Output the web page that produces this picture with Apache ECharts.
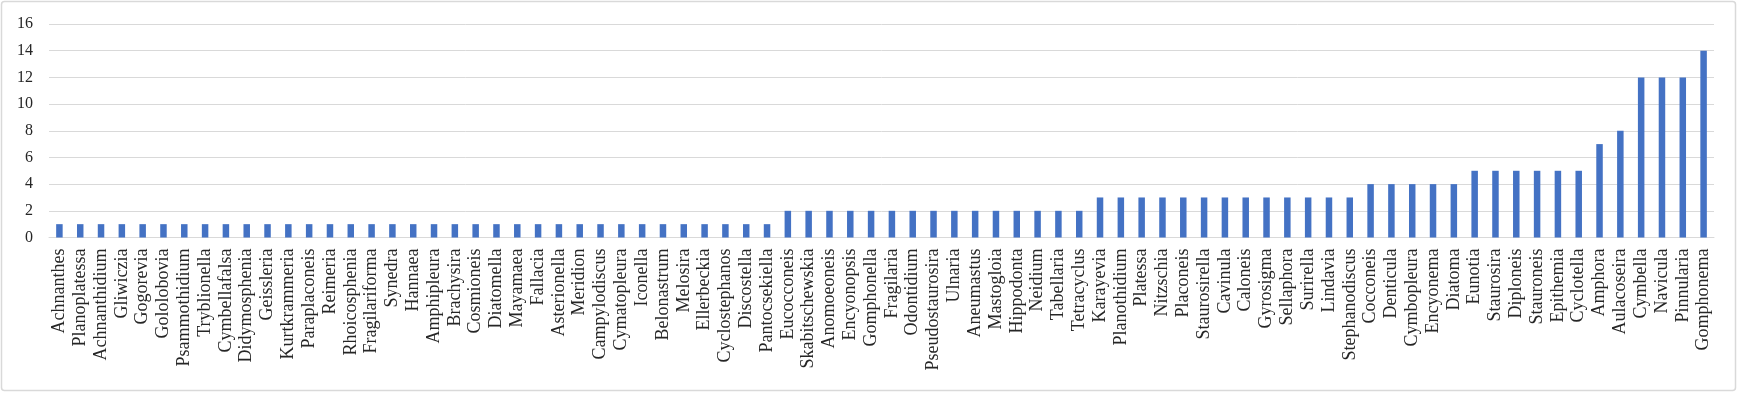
<!DOCTYPE html>
<html><head><meta charset="utf-8">
<script src="https://cdn.jsdelivr.net/npm/echarts@6/dist/echarts.min.js"></script>
<style>html,body{margin:0;padding:0;background:#fff}#c{width:1738px;height:393px}</style>
</head><body><div id="c"></div>
<script>
const categories = ["Achnanthes","Planoplatessa","Achnanthidium","Gliwiczia","Gogorevia","Gololobovia","Psammothidium","Tryblionella","Cymbellafalsa","Didymosphenia","Geissleria","Kurtkrammeria","Paraplaconeis","Reimeria","Rhoicosphenia","Fragilariforma","Synedra","Hannaea","Amphipleura","Brachysira","Cosmioneis","Diatomella","Mayamaea","Fallacia","Asterionella","Meridion","Campylodiscus","Cymatopleura","Iconella","Belonastrum","Melosira","Ellerbeckia","Cyclostephanos","Discostella","Pantocsekiella","Eucocconeis","Skabitschewskia","Anomoeoneis","Encyonopsis","Gomphonella","Fragilaria","Odontidium","Pseudostaurosira","Ulnaria","Aneumastus","Mastogloia","Hippodonta","Neidium","Tabellaria","Tetracyclus","Karayevia","Planothidium","Platessa","Nitzschia","Placoneis","Staurosirella","Cavinula","Caloneis","Gyrosigma","Sellaphora","Surirella","Lindavia","Stephanodiscus","Cocconeis","Denticula","Cymbopleura","Encyonema","Diatoma","Eunotia","Staurosira","Diploneis","Stauroneis","Epithemia","Cyclotella","Amphora","Aulacoseira","Cymbella","Navicula","Pinnularia","Gomphonema"];
const values = [1,1,1,1,1,1,1,1,1,1,1,1,1,1,1,1,1,1,1,1,1,1,1,1,1,1,1,1,1,1,1,1,1,1,1,
2,2,2,2,2,2,2,2,2,2,2,2,2,2,2,
3,3,3,3,3,3,3,3,3,3,3,3,3,
4,4,4,4,4,
5,5,5,5,5,5,
7,8,12,12,12,14];
const yTicks = {min:0, max:16, interval:2};

const FONT = "'Liberation Serif', 'Times New Roman', 'DejaVu Serif', serif";
const chart = echarts.init(document.getElementById('c'), null, {renderer:'canvas'});
chart.setOption({
  animation:false,
  backgroundColor:'#fff',
  graphic:[{type:'rect', shape:{x:1.5,y:1.5,width:1734,height:389,r:3}, style:{fill:'none',stroke:'#d9d9d9',lineWidth:1.5}, silent:true}],
  grid:{left:49,right:24,top:24,bottom:155.5,containLabel:false},
  xAxis:{type:'category',data:categories,
    axisTick:{show:false},
    axisLine:{lineStyle:{color:'#d9d9d9',width:1}},
    axisLabel:{interval:0,rotate:90,margin:11,fontFamily:FONT,fontSize:18,color:'#262626'}},
  yAxis:{type:'value',min:yTicks.min,max:yTicks.max,interval:yTicks.interval,
    axisLine:{show:false},axisTick:{show:false},
    splitLine:{lineStyle:{color:'#d9d9d9',width:1}},
    axisLabel:{margin:16,fontFamily:FONT,fontSize:16,color:'#262626'}},
  series:[{type:'bar',data:values,barWidth:6.5,itemStyle:{color:'#4472C4'}}]
});
</script></body></html>
